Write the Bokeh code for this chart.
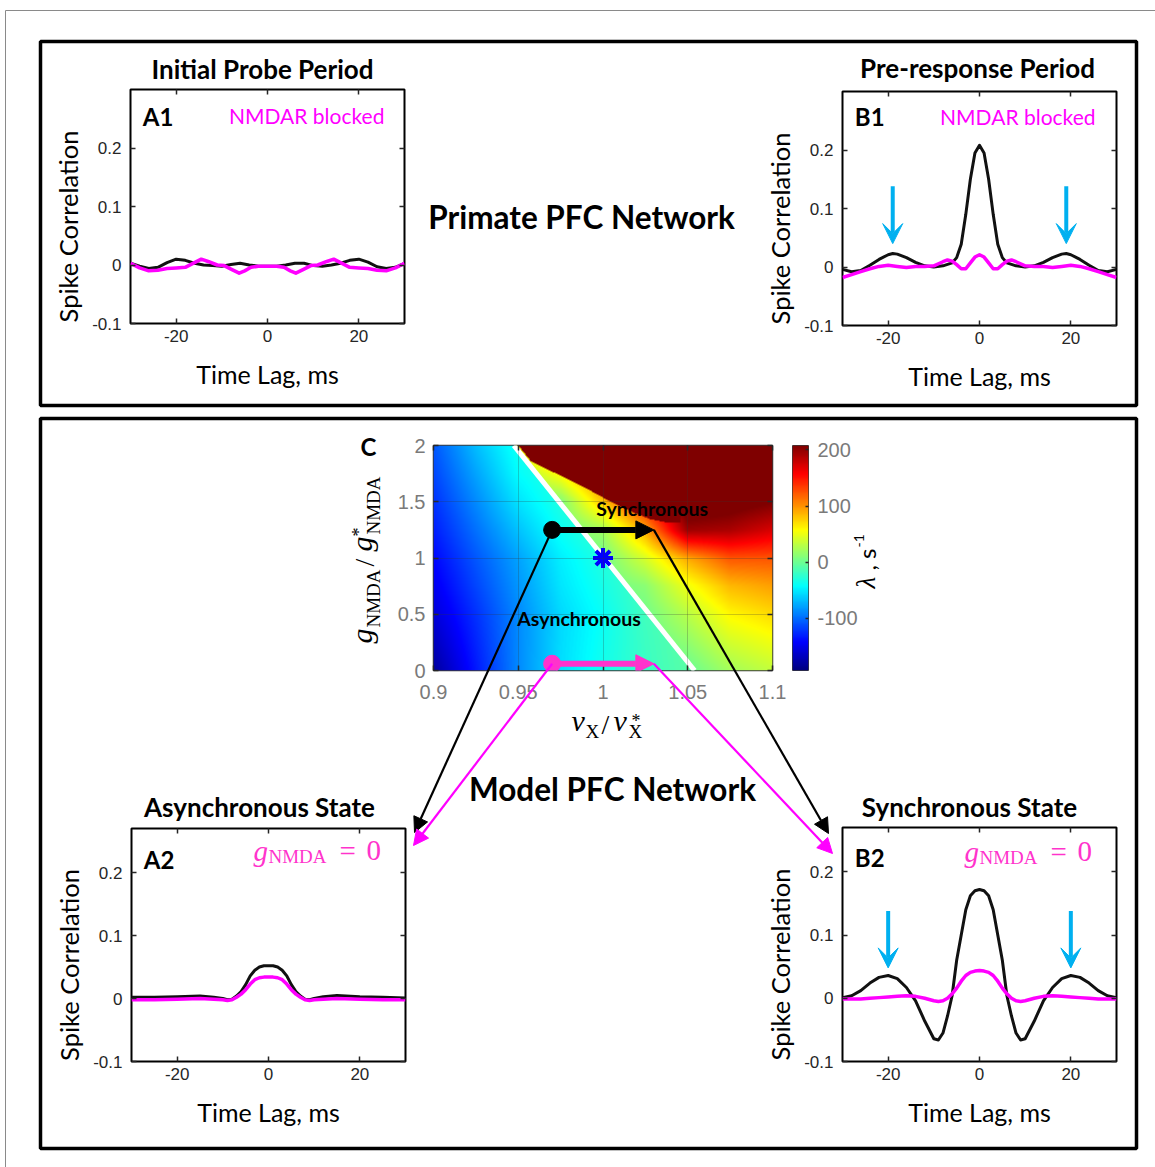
import numpy as np
from bokeh.plotting import figure
from bokeh.models import (Range1d, LinearAxis, FixedTicker, PrintfTickFormatter, Label,
                          Arrow, NormalHead, VeeHead, LinearColorMapper, GridBox, Grid)
from bokeh.embed import file_html
from bokeh.resources import INLINE

W, H = 1155, 1167

# ---------------- spike cross-correlograms (lag in ms) ----------------
lag_ticks = [-20, 0, 20]
corr_ticks = [-0.1, 0, 0.1, 0.2]

# A1: primate data, initial probe period
a1_lag = [-30, -28, -26, -24, -22, -20, -18, -16, -14, -12, -10, -8, -6, -4, -2, 0,
          2, 4, 6, 8, 10, 12, 14, 16, 18, 20, 22, 24, 26, 28, 30]
a1_ctrl = [0.003, -0.002, -0.006, -0.004, 0.004, 0.010, 0.008, 0.003, 0.0, -0.001, -0.002,
           0.001, 0.003, 0.0, -0.002, -0.002, -0.002, 0.0, 0.003, 0.003, -0.001, -0.002,
           0.0, 0.003, 0.008, 0.010, 0.005, -0.003, -0.006, -0.004, 0.003]
a1_blk_lag = [-30, -28, -26, -24, -22, -20, -18, -16, -14.5, -13, -11, -9.5, -8, -6.2, -5,
              -3.6, -2, 0, 2, 3.6, 5, 6.2, 8, 9.5, 11, 13, 14.5, 16, 18, 20, 22, 24, 26, 28, 30]
a1_blk = [0.003, -0.005, -0.010, -0.009, -0.006, -0.005, -0.004, 0.004, 0.010, 0.006, 0.0,
          -0.001, -0.007, -0.014, -0.010, -0.004, -0.002, -0.002, -0.002, -0.004, -0.010,
          -0.014, -0.007, -0.001, 0.0, 0.006, 0.010, 0.004, -0.004, -0.005, -0.006, -0.009,
          -0.010, -0.005, 0.003]

# B1: primate data, pre-response period
b1_lag = [-30, -28, -26, -24, -22, -20, -19, -18, -16, -14, -12, -10, -8, -6, -5, -4, -3, -2,
          -1, 0, 1, 2, 3, 4, 5, 6, 8, 10, 12, 14, 16, 18, 19, 20, 22, 24, 26, 28, 30]
b1_ctrl = [-0.004, -0.008, -0.006, 0.003, 0.013, 0.021, 0.023, 0.022, 0.016, 0.008, 0.002,
           0.0, 0.002, 0.007, 0.016, 0.039, 0.090, 0.150, 0.195, 0.208, 0.195, 0.150, 0.090,
           0.039, 0.016, 0.007, 0.002, 0.0, 0.002, 0.008, 0.016, 0.022, 0.023, 0.021, 0.013,
           0.003, -0.006, -0.008, -0.004]
b1_blk_lag = [-30, -28, -26, -24, -22, -20, -18, -16, -14, -12, -10, -8, -7, -6, -5, -4, -3,
              -2, -1, 0, 1, 2, 3, 4, 5, 6, 7, 8, 10, 12, 14, 16, 18, 20, 22, 24, 26, 28, 30]
b1_blk = [-0.018, -0.013, -0.008, -0.003, 0.001, 0.003, 0.001, -0.001, 0.001, 0.001, 0.002,
          0.009, 0.012, 0.010, 0.004, -0.003, -0.003, 0.007, 0.017, 0.021, 0.017, 0.007,
          -0.003, -0.003, 0.004, 0.010, 0.012, 0.009, 0.002, 0.001, 0.001, -0.001, 0.001,
          0.003, 0.001, -0.003, -0.008, -0.013, -0.018]
b1_side_lag = [-19, 19]
b1_side_from, b1_side_to = 0.138, 0.040

# A2: model, asynchronous state
a2_lag = [-30, -25, -20, -15, -12, -10, -9, -8, -7, -6, -5, -4, -3, -2, -1, 0, 1, 2, 3, 4, 5,
          6, 7, 8, 9, 10, 12, 15, 20, 25, 30]
a2_ctrl = [0.002, 0.002, 0.003, 0.004, 0.002, 0.0, -0.002, -0.001, 0.004, 0.011, 0.022, 0.036,
           0.045, 0.050, 0.052, 0.052, 0.052, 0.050, 0.045, 0.036, 0.022, 0.011, 0.004, -0.001,
           -0.002, 0.0, 0.003, 0.005, 0.003, 0.002, 0.001]
a2_blk = [-0.002, -0.002, -0.001, 0.0, -0.001, -0.002, -0.003, -0.002, 0.002, 0.007, 0.014,
          0.023, 0.030, 0.033, 0.034, 0.034, 0.034, 0.033, 0.030, 0.023, 0.014, 0.007, 0.002,
          -0.002, -0.003, -0.002, -0.001, 0.0, -0.001, -0.002, -0.002]

# B2: model, synchronous state
b2_lag = [-30, -28, -26, -24, -22, -20, -18, -16, -14, -12, -10, -9, -8, -7, -6, -5, -4, -3,
          -2, -1, 0, 1, 2, 3, 4, 5, 6, 7, 8, 9, 10, 12, 14, 16, 18, 20, 22, 24, 26, 28, 30]
b2_ctrl = [0.001, 0.004, 0.012, 0.024, 0.033, 0.036, 0.031, 0.017, -0.004, -0.036, -0.064,
           -0.066, -0.055, -0.028, 0.004, 0.060, 0.100, 0.140, 0.162, 0.170, 0.172, 0.170,
           0.162, 0.140, 0.100, 0.060, 0.004, -0.028, -0.055, -0.066, -0.064, -0.036, -0.004,
           0.017, 0.031, 0.036, 0.033, 0.024, 0.012, 0.004, 0.001]
b2_blk = [-0.001, -0.001, -0.001, 0.0, 0.001, 0.002, 0.003, 0.004, 0.003, 0.0, -0.004, -0.005,
          -0.004, 0.0, 0.007, 0.016, 0.027, 0.036, 0.041, 0.043, 0.044, 0.043, 0.041, 0.036,
          0.027, 0.016, 0.007, 0.0, -0.004, -0.005, -0.004, 0.0, 0.003, 0.004, 0.003, 0.002,
          0.001, 0.0, -0.001, -0.001, -0.001]
b2_side_lag = [-20, 20]
b2_side_from, b2_side_to = 0.138, 0.048

# ---------------- growth-rate map lambda(vX/vX*, gNMDA/gNMDA*) ----------------
hm_v = [0.9, 0.925, 0.95, 0.975, 1.0, 1.025, 1.05, 1.075, 1.1]
hm_g = [0.0, 0.25, 0.5, 0.75, 1.0, 1.25, 1.5, 1.75, 2.0]
v_ticks = [0.9, 0.95, 1.0, 1.05, 1.1]
g_ticks = [0, 0.5, 1, 1.5, 2]
lam_ticks = [-100, 0, 100, 200]
lam_low, lam_high = -193, 208

# asynchronous side of the lambda = 0 line (rows: g, columns: v)
lam_async = [
    [-180, -133, -88, -55, -35, -20, -8, 2, 10],
    [-168, -128, -88, -56, -37, -19, -6, 4, 12],
    [-157, -123, -88, -57, -39, -17, -4, 6, 14],
    [-148, -115, -83, -52, -34, -15, -2, 8, 16],
    [-140, -108, -78, -48, -29, -12, 0, 10, 18],
    [-131, -98, -66, -38, -20, -8, 2, 12, 20],
    [-123, -88, -53, -30, -15, -4, 5, 14, 22],
    [-115, -78, -42, -25, -10, 0, 8, 16, 24],
    [-108, -68, -35, -20, -6, 3, 10, 18, 26],
]
# synchronous side of the lambda = 0 line
lam_sync = [
    [-60, -50, -40, -30, -20, -12, -2, 22, 34],
    [-50, -40, -30, -20, -12, -4, 14, 40, 52],
    [-40, -30, -20, -12, -5, 2, 30, 60, 72],
    [-30, -20, -12, -5, 0, 12, 52, 85, 95],
    [-20, -12, -5, 0, 2, 42, 92, 125, 125],
    [-10, -5, 0, 2, 20, 90, 195, 190, 172],
    [-5, 0, 3, 8, 80, 150, 230, 220, 208],
    [0, 3, 20, 60, 120, 190, 240, 235, 235],
    [3, 15, 60, 120, 180, 230, 245, 245, 250],
]
# lambda = 0 contour
zero_v = [1.054, 0.9474]
zero_g = [0.0, 2.0]
# edge of the strongly unstable (saturated) region
sync_edge_v = [0.950, 0.957, 0.973, 0.985, 0.9965, 1.004, 1.018, 1.028, 1.038, 1.046]
sync_edge_g = [2.0, 1.867, 1.748, 1.66, 1.57, 1.51, 1.41, 1.35, 1.32, 1.32]
lam_saturated = 250

# operating points
state_v_async, state_v_sync = 0.97, 1.03
state_g_ctrl, state_g_block = 1.25, 0.06
ref_point = (1.0, 1.0)

# ---------------- layout geometry (pixels) ----------------
A1 = dict(x=130, y=89, w=274, h=234, top=0.3)
B1 = dict(x=842, y=91, w=274, h=234, top=0.3)
A2 = dict(x=131, y=828, w=274, h=233, top=0.27)
B2 = dict(x=842, y=827, w=274, h=234, top=0.27)
CX, CY, CW, CH = 433, 445, 339, 225
BX, BW = 792, 16

BLACK = "#111111"
MAGENTA = "#ff00ff"
PINK = "#ff33cc"
CYAN = "#00b0f0"
TICK_GRAY = "#7a7a7a"


def tune_axis(ax, ticks, size=17, color="#262626", show=True, tick_in=5, font="Liberation Sans"):
    ax.ticker = FixedTicker(ticks=ticks)
    ax.formatter = PrintfTickFormatter(format="%g")
    ax.axis_line_color = None
    ax.major_tick_in = tick_in
    ax.major_tick_out = 0
    ax.major_tick_line_color = "#262626"
    ax.major_tick_line_width = 1.5
    ax.minor_tick_line_color = None
    ax.major_label_text_font = font
    if show:
        ax.major_label_text_font_size = f"{size}px"
        ax.major_label_text_color = color
    else:
        ax.major_label_text_font_size = "1px"
        ax.major_label_text_color = None
        ax.major_label_standoff = 0


def base_fig(fx, fy, fw, fh, xr, yr, L, T, R, B):
    p = figure(frame_width=fw, frame_height=fh, x_range=xr, y_range=yr,
               x_axis_type=None, y_axis_type=None, toolbar_location=None,
               output_backend="svg", title=None,
               min_border_left=L, min_border_top=T, min_border_right=R, min_border_bottom=B)
    p.frame_align = False
    p.margin = (fy - T, 0, 0, fx - L)
    p.border_fill_alpha = 0
    return p


def corr_panel(geo, tag, curves, side=None):
    p = base_fig(geo["x"], geo["y"], geo["w"], geo["h"], Range1d(-30, 30),
                 Range1d(-0.1, geo["top"]), 110, 45, 50, 90)
    p.outline_line_color = "black"
    p.outline_line_width = 2

    left = LinearAxis()
    tune_axis(left, corr_ticks)
    left.major_label_standoff = 9
    p.add_layout(left, "left")

    below = LinearAxis(axis_label="Time Lag, ms")
    tune_axis(below, lag_ticks)
    below.major_label_standoff = 6
    below.axis_label_standoff = 14
    below.axis_label_text_font = "Lato"
    below.axis_label_text_font_size = "25px"
    below.axis_label_text_font_style = "normal"
    below.axis_label_text_color = "black"
    p.add_layout(below, "below")

    top = LinearAxis()
    tune_axis(top, lag_ticks, show=False)
    p.add_layout(top, "above")
    right = LinearAxis()
    tune_axis(right, corr_ticks, show=False)
    p.add_layout(right, "right")

    for xs, ys, col, lw in curves:
        p.line(xs, ys, line_color=col, line_width=lw, line_join="round")

    if side is not None:
        lags, y0, y1 = side
        for lg in lags:
            p.add_layout(Arrow(x_start=lg, y_start=y0, x_end=lg, y_end=y1,
                               line_color=CYAN, line_width=4,
                               end=VeeHead(size=20, fill_color=CYAN, line_color=CYAN,
                                           line_width=1)))

    p.add_layout(Label(x=-27.3, y=tag[1], text=tag[0], text_font="Lato",
                       text_font_style="bold", text_font_size="24px",
                       text_baseline="middle", text_color="black"))
    return p


a1 = corr_panel(A1, ("A1", 0.253), [(a1_lag, a1_ctrl, BLACK, 3), (a1_blk_lag, a1_blk, MAGENTA, 3.5)])
a1.add_layout(Label(x=25.6, y=0.255, text="NMDAR blocked", text_font="Lato",
                    text_font_size="21px", text_align="right", text_baseline="middle",
                    text_color=MAGENTA))
b1 = corr_panel(B1, ("B1", 0.258), [(b1_lag, b1_ctrl, BLACK, 3), (b1_blk_lag, b1_blk, MAGENTA, 3.5)],
                side=(b1_side_lag, b1_side_from, b1_side_to))
b1.add_layout(Label(x=25.4, y=0.258, text="NMDAR blocked", text_font="Lato",
                    text_font_size="21px", text_align="right", text_baseline="middle",
                    text_color=MAGENTA))
a2 = corr_panel(A2, ("A2", 0.221), [(a2_lag, a2_ctrl, BLACK, 3), (a2_lag, a2_blk, MAGENTA, 3.5)])
b2 = corr_panel(B2, ("B2", 0.222), [(b2_lag, b2_ctrl, BLACK, 3), (b2_lag, b2_blk, MAGENTA, 3.5)],
                side=(b2_side_lag, b2_side_from, b2_side_to))


# ---------------- lambda map ----------------
def jet(n=256):
    out = []
    for t in np.linspace(0, 1, n):
        r = np.clip(1.5 - abs(4 * t - 3), 0, 1)
        g = np.clip(1.5 - abs(4 * t - 2), 0, 1)
        b = np.clip(1.5 - abs(4 * t - 1), 0, 1)
        out.append("#%02x%02x%02x" % (int(r * 255), int(g * 255), int(b * 255)))
    return out


v_f = np.linspace(hm_v[0], hm_v[-1], CW + 1)
g_f = np.linspace(hm_g[0], hm_g[-1], CH + 1)


def resample(tab):
    tab = np.asarray(tab, float)
    rows = np.array([np.interp(v_f, hm_v, r) for r in tab])
    return np.array([np.interp(g_f, hm_g, rows[:, j]) for j in range(len(v_f))]).T


VV, GG = np.meshgrid(v_f, g_f)
v_zero = np.interp(GG, zero_g, zero_v)
lam = np.where(VV < v_zero, resample(lam_async), resample(lam_sync))
edge = np.interp(VV, sync_edge_v, sync_edge_g)
hot = (VV >= sync_edge_v[0]) & (VV <= sync_edge_v[-1]) & (GG >= edge) & (VV >= v_zero)
lam[hot] = lam_saturated

cmap = LinearColorMapper(palette=jet(), low=lam_low, high=lam_high)

c = base_fig(CX, CY, CW, CH, Range1d(hm_v[0], hm_v[-1]), Range1d(hm_g[0], hm_g[-1]),
             80, 30, 30, 60)
c.outline_line_color = "#3a3a3a"
c.outline_line_width = 1.5
c.image(image=[lam], x=hm_v[0], y=hm_g[0], dw=hm_v[-1] - hm_v[0], dh=hm_g[-1] - hm_g[0],
        color_mapper=cmap)
c.add_layout(Grid(dimension=0, ticker=FixedTicker(ticks=v_ticks), grid_line_color="#333333",
                  grid_line_alpha=0.25, level="guide"))
c.add_layout(Grid(dimension=1, ticker=FixedTicker(ticks=g_ticks), grid_line_color="#333333",
                  grid_line_alpha=0.25, level="guide"))
cl = LinearAxis()
tune_axis(cl, g_ticks, size=20, color=TICK_GRAY, tick_in=5)
cl.major_label_standoff = 8
c.add_layout(cl, "left")
cb_ax = LinearAxis()
tune_axis(cb_ax, v_ticks, size=20, color=TICK_GRAY, tick_in=5)
cb_ax.major_label_standoff = 14
c.add_layout(cb_ax, "below")
ct = LinearAxis()
tune_axis(ct, v_ticks, show=False)
c.add_layout(ct, "above")
cr = LinearAxis()
tune_axis(cr, g_ticks, show=False)
c.add_layout(cr, "right")

c.line(zero_v, zero_g, line_color="white", line_width=5)
c.scatter([ref_point[0]], [ref_point[1]], marker="asterisk", size=20, line_color="#0000ff",
          line_width=4)
c.add_layout(Arrow(x_start=state_v_async, y_start=state_g_ctrl, x_end=state_v_sync,
                   y_end=state_g_ctrl, line_color="black", line_width=6,
                   end=NormalHead(size=18, fill_color="black", line_color="black")))
c.add_layout(Arrow(x_start=state_v_async, y_start=state_g_block, x_end=state_v_sync,
                   y_end=state_g_block, line_color=PINK, line_width=6,
                   end=NormalHead(size=18, fill_color=PINK, line_color=PINK)))
c.scatter([state_v_async], [state_g_ctrl], size=17, color="black")
c.scatter([state_v_async], [state_g_block], size=17, color=PINK)
c.add_layout(Label(x=0.996, y=1.44, text="Synchronous", text_font="Lato",
                   text_font_style="bold", text_font_size="19.5px", text_baseline="middle",
                   text_color="black"))
c.add_layout(Label(x=0.9494, y=0.46, text="Asynchronous", text_font="Lato",
                   text_font_style="bold", text_font_size="19.5px", text_baseline="middle",
                   text_color="black"))

# colour scale
cb = base_fig(BX, CY, BW, CH, Range1d(0, 1), Range1d(lam_low, lam_high), 5, 30, 70, 30)
cb.outline_line_color = "#3a3a3a"
cb.outline_line_width = 1
cb.image(image=[np.linspace(lam_low, lam_high, 256)[:, None]], x=0, y=lam_low, dw=1,
         dh=lam_high - lam_low, color_mapper=cmap)
cbr = LinearAxis()
tune_axis(cbr, lam_ticks, size=20, color=TICK_GRAY, tick_in=3)
cbr.major_label_standoff = 9
cb.add_layout(cbr, "right")

# ---------------- full-page layer: frames, headings, links ----------------
ov = figure(frame_width=W, frame_height=H, x_range=Range1d(0, W), y_range=Range1d(H, 0),
            x_axis_type=None, y_axis_type=None, toolbar_location=None,
            output_backend="svg", title=None, min_border=0)
ov.frame_align = False
ov.outline_line_color = None
ov.background_fill_alpha = 0
ov.border_fill_alpha = 0

# page border runs past the right and bottom edges
ov.quad(left=5, right=W + 10, top=10, bottom=H + 10, fill_color=None, line_color="#8a8a8a",
        line_width=1)
ov.quad(left=40, right=1136, top=41, bottom=405, fill_color=None, line_color="black",
        line_width=3.5)
ov.quad(left=40, right=1136, top=418, bottom=1148, fill_color=None, line_color="black",
        line_width=3.5)

UP = np.pi / 2
SERIF = "Liberation Serif"
MID_SHIFT = {"Lato": 0.387, SERIF: 0.3375}


def put(text, x, y, size, font="Lato", style="normal", color="black", align="left",
        angle=0.0, centered=False):
    # (x, y) is the alphabetic baseline unless centered; labels are drawn middle-anchored
    if not centered:
        k = MID_SHIFT[font] * size
        if angle == 0.0:
            y -= k
        else:
            x -= k
    ov.add_layout(Label(x=x, y=y, text=text, text_font=font, text_font_size=f"{size}px",
                        text_font_style=style, text_color=color, text_align=align,
                        text_baseline="middle", angle=angle))


put("Primate PFC Network", 581, 229, 31.5, style="bold", align="center")
put("Model PFC Network", 612, 801, 31.5, style="bold", align="center")
put("Initial Probe Period", 262, 79, 26, style="bold", align="center")
put("Pre-response Period", 977, 78, 26, style="bold", align="center")
put("Asynchronous State", 259, 817, 26, style="bold", align="center")
put("Synchronous State", 969, 817, 26, style="bold", align="center")
put("C", 360, 446, 24, style="bold", centered=True)

for geo in (A1, B1, A2, B2):
    put("Spike Correlation", geo["x"] - 63, geo["y"] + geo["h"] / 2 + 20, 25.5,
        align="center", angle=UP, centered=True)

# x label of the map: v_X / v*_X
put("v", 571, 730, 30, font=SERIF, style="italic")
put("X", 585, 737, 19, font=SERIF)
put("/", 601, 733, 28, font=SERIF)
put("v", 613, 730, 30, font=SERIF, style="italic")
put("*", 631, 727, 18, font=SERIF)
put("X", 628, 737, 19, font=SERIF)
# y label of the map: g_NMDA / g*_NMDA (reads upwards)
put("g", 371, 643, 30, font=SERIF, style="italic", angle=UP)
put("NMDA", 379, 627, 19, font=SERIF, angle=UP)
put("/", 373, 566, 28, font=SERIF, angle=UP)
put("g", 371, 551, 30, font=SERIF, style="italic", angle=UP)
put("*", 365, 536, 18, font=SERIF, angle=UP)
put("NMDA", 379, 534, 19, font=SERIF, angle=UP)
# colour scale label
put("λ", 875, 588, 27, font=SERIF, style="italic", angle=UP)
put(", s", 875, 570, 24, angle=UP)
put("-1", 864, 547, 14, angle=UP)


# g_NMDA = 0 tags on the model panels
def gzero(geo, baseline):
    x0 = geo["x"] + geo["w"] - 152
    put("g", x0, baseline, 29, font=SERIF, style="italic", color=PINK)
    put("NMDA", x0 + 15, baseline + 2, 19, font=SERIF, color=PINK)
    put("=", x0 + 86, baseline, 29, font=SERIF, color=PINK)
    put("0", x0 + 113, baseline, 29, font=SERIF, color=PINK)


gzero(A2, 860)
gzero(B2, 861)


def map_px(v, g):
    return (CX + (v - hm_v[0]) / (hm_v[-1] - hm_v[0]) * CW,
            CY + (hm_g[-1] - g) / (hm_g[-1] - hm_g[0]) * CH)


links = [
    (map_px(state_v_async, state_g_ctrl), (A2["x"] + A2["w"] + 9, A2["y"] + 4), "black"),
    (map_px(state_v_async, state_g_block), (A2["x"] + A2["w"] + 8, A2["y"] + 17), MAGENTA),
    (map_px(state_v_sync, state_g_ctrl), (B2["x"] - 14, B2["y"] + 6), "black"),
    (map_px(state_v_sync, state_g_block), (B2["x"] - 10, B2["y"] + 26), MAGENTA),
]
for (x0, y0), (x1, y1), col in links:
    ov.add_layout(Arrow(x_start=x0, y_start=y0, x_end=x1, y_end=y1, line_color=col,
                        line_width=2.2,
                        end=NormalHead(size=15, fill_color=col, line_color=col)))

root = GridBox(children=[(a1, 0, 0), (b1, 0, 0), (c, 0, 0), (cb, 0, 0), (a2, 0, 0),
                         (b2, 0, 0), (ov, 0, 0)])

open("out.html", "w").write(file_html(root, INLINE))
